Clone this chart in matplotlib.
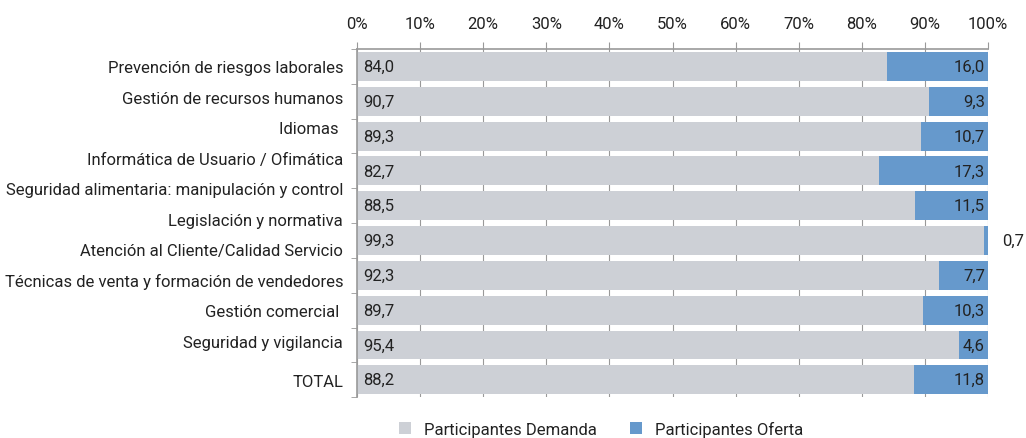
import numpy as np
import matplotlib
matplotlib.use("Agg")
import matplotlib.pyplot as plt

categories = [
    "Prevención de riesgos laborales",
    "Gestión de recursos humanos",
    "Idiomas ",
    "Informática de Usuario / Ofimática",
    "Seguridad alimentaria: manipulación y control",
    "Legislación y normativa",
    "Atención al Cliente/Calidad Servicio",
    "Técnicas de venta y formación de vendedores",
    "Gestión comercial ",
    "Seguridad y vigilancia",
    "TOTAL",
]
# the source chart has 11 category labels but only 10 bars
demanda = [84.0, 90.7, 89.3, 82.7, 88.5, 99.3, 92.3, 89.7, 95.4, 88.2]
oferta = [16.0, 9.3, 10.7, 17.3, 11.5, 0.7, 7.7, 10.3, 4.6, 11.8]
xticks = [0, 10, 20, 30, 40, 50, 60, 70, 80, 90, 100]

plt.rcParams["font.family"] = ["Liberation Sans Narrow", "Roboto", "DejaVu Sans"]
GRAY = "#cdd0d6"
BLUE = "#6699cc"
TXT = "#222222"

fig = plt.figure(figsize=(10.26, 4.39), dpi=100)
ax = fig.add_axes([0.348, 0.093, 0.615, 0.793])

n = len(demanda)
y = np.arange(n)
dem = np.array(demanda)
ofe = np.array(oferta)
ax.barh(y, dem, height=0.83, color=GRAY, label="Participantes Demanda", zorder=2)
ax.barh(y, ofe, left=dem, height=0.83, color=BLUE, label="Participantes Oferta", zorder=2)

for i in range(n):
    ax.text(1, y[i], f"{demanda[i]:.1f}".replace(".", ","), va="center", ha="left",
            fontsize=12, color=TXT, zorder=3)
    lab = f"{oferta[i]:.1f}".replace(".", ",")
    if oferta[i] < 2:
        ax.text(102.2, y[i], lab, va="center", ha="left", fontsize=12, color=TXT, clip_on=False)
    else:
        ax.text(99.5, y[i], lab, va="center", ha="right", fontsize=12, color=TXT, zorder=3)

ax.set_xlim(0, 100)
ax.set_ylim(n - 0.5, -0.5)
ax.xaxis.tick_top()
ax.set_xticks(xticks)
ax.set_xticklabels([f"{t}%" for t in xticks], fontsize=12, color=TXT)
ax.tick_params(axis="x", length=5, color="#999999", pad=8)

# label positions: first ten squeezed into the upper part, TOTAL on the last bar
label_pos = list(np.arange(len(categories) - 1) * 0.876) + [n - 1]
ax.set_yticks(label_pos)
ax.set_yticklabels(categories, fontsize=12, color=TXT)
ax.set_yticks(np.arange(n + 1) - 0.5, minor=True)
ax.tick_params(axis="y", which="major", length=0, pad=10)
ax.tick_params(axis="y", which="minor", length=4, color="#999999")
ax.grid(axis="x", color="#999999", linewidth=0.8, zorder=0)
for s in ["right", "bottom"]:
    ax.spines[s].set_visible(False)
for s in ["top", "left"]:
    ax.spines[s].set_color("#999999")
    ax.spines[s].set_linewidth(1.2)

ax.legend(loc="upper center", bbox_to_anchor=(0.387, -0.025), ncol=2, frameon=False,
          fontsize=12, handlelength=0.7, handleheight=0.7, columnspacing=2.0,
          labelcolor=TXT)

fig.savefig("out.png", dpi=100)
